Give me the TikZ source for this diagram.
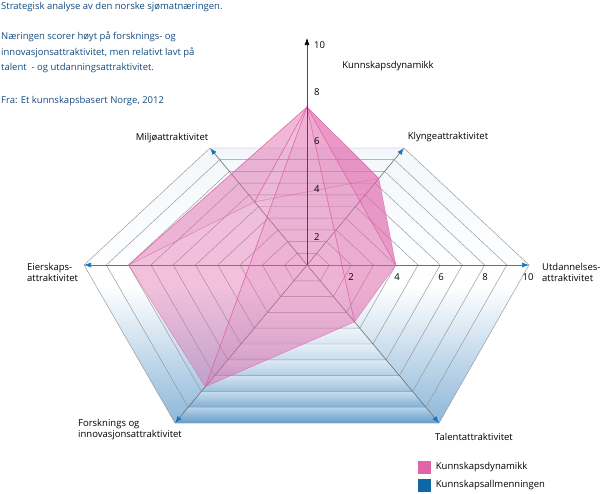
\documentclass[tikz,border=0pt]{standalone}
\usepackage{fontspec}
\setmainfont{Open Sans}
\usepackage{xcolor}
\usepackage{tikz}
\usetikzlibrary{calc}
\usetikzlibrary{arrows.meta}
\usetikzlibrary{positioning}

\definecolor{titleblue}{HTML}{154A7E}
\definecolor{gridgray}{HTML}{959595}
\definecolor{spokegray}{HTML}{6E6E6E}
\definecolor{tipblue}{HTML}{1B75BB}
\definecolor{dynpink}{HTML}{DF65A9}
\definecolor{allmblue}{HTML}{0F67A6}
\definecolor{floorblue}{HTML}{2F7CBA}

\begin{document}
\begin{tikzpicture}[x=1pt, y=-1pt, font=\fontsize{9.5}{11}\selectfont,
  ring/.style={draw=gridgray, line width=0.45pt},
  spoke/.style={draw=spokegray, line width=0.6pt, -{Latex[length=7pt,width=5pt,color=tipblue]}},
  face/.style={fill=dynpink, fill opacity=#1, draw=dynpink, draw opacity=0.7, line width=0.5pt},
  axislabel/.style={inner sep=0pt, align=left},
  tick/.style={inner sep=0pt},
  key/.style={minimum size=13pt, inner sep=0pt}]
  \useasboundingbox (0,0) rectangle (600,493);

  % floor of the chart
  \coordinate (O) at (307,265);
  \coordinate (utd) at (529,265);
  \coordinate (klynge) at (404,148);
  \coordinate (miljo) at (210,148);
  \coordinate (eier) at (84,265);
  \coordinate (forsk) at (175,423);
  \coordinate (talent) at (439,423);
  \coordinate (top) at (307,38);

  \shade[top color=floorblue!6, bottom color=floorblue!55, middle color=white]
    (utd) -- (klynge) -- (miljo) -- (eier) -- (forsk) -- (talent) -- cycle;
  \foreach \r [evaluate=\r as \lo using {(\r-1)/10}, evaluate=\r as \hi using {\r/10},
      evaluate=\r as \ct using {0.33*\r*\r}, evaluate=\r as \cb using {0.75*\r*\r}] in {1,...,10}
    \shade[top color=floorblue!\ct, bottom color=floorblue!\cb]
      ($(O)!\lo!(forsk)$) -- ($(O)!\lo!(talent)$) -- ($(O)!\hi!(talent)$) -- ($(O)!\hi!(forsk)$) -- cycle;

  \foreach \r in {10,...,1}
    \draw[ring] ($(O)!\r/10!(utd)$) -- ($(O)!\r/10!(klynge)$) -- ($(O)!\r/10!(miljo)$)
      -- ($(O)!\r/10!(eier)$) -- ($(O)!\r/10!(forsk)$) -- ($(O)!\r/10!(talent)$) -- cycle;
  \foreach \s in {utd,klynge,miljo,eier,forsk,talent}
    \draw[spoke] (O) -- (\s);

  % Kunnskapsdynamikk
  \coordinate (apex) at (307,107);
  \coordinate (pu) at ($(O)!0.40!(utd)$);
  \coordinate (pk) at ($(O)!0.74!(klynge)$);
  \coordinate (pm) at ($(O)!0.54!(miljo)$);
  \coordinate (pe) at ($(O)!0.80!(eier)$);
  \coordinate (pf) at ($(O)!0.77!(forsk)$);
  \coordinate (pt) at ($(O)!0.36!(talent)$);
  \fill[dynpink, fill opacity=0.14] (pu) -- (pk) -- (pm) -- (pe) -- (pf) -- (pt) -- cycle;
  \path[face=0.18] (apex) -- (pk) -- (pm) -- cycle;
  \path[face=0.24] (apex) -- (pm) -- (pe) -- cycle;
  \path[face=0.3] (apex) -- (pe) -- (pf) -- cycle;
  \path[face=0.4] (apex) -- (pf) -- (pt) -- cycle;
  \path[face=0.45] (apex) -- (pt) -- (pu) -- cycle;
  \path[face=0.6] (apex) -- (pu) -- (pk) -- cycle;

  \draw[black!70, line width=0.6pt, -{Latex[length=7pt,width=5pt,color=black]}] (O) -- (top);
  \foreach \v/\y in {2/237,4/189,6/141,8/92,10/45}
    \node[tick, anchor=west] at (314,\y) {\v};
  \foreach \v/\x in {2/351,4/397,6/441,8/485,10/528}
    \node[tick] at (\x,277) {\v};

  % axis names
  \node[axislabel] (ldyn) at (388,66) {Kunnskapsdynamikk};
  \node[axislabel] (lklynge) at (448,137) {Klyngeattraktivitet};
  \node[axislabel] (lmiljo) at (172,138) {Miljøattraktivitet};
  \node[axislabel, anchor=west] (leier) at (27,272) {Eierskaps-\\attraktivitet};
  \node[axislabel, anchor=west] (lutd) at (542,272) {Utdannelses-\\attraktivitet};
  \node[axislabel] (ltalent) at (474,437) {Talentattraktivitet};
  \node[axislabel, anchor=west] (lforsk) at (78,430) {Forsknings og\\innovasjonsattraktivitet};

  % title
  \node[axislabel, anchor=west, text=titleblue] (title) at (1,7) {Strategisk analyse av den norske sjømatnæringen.};
  \node[axislabel, anchor=north west, text=titleblue, font=\fontsize{9.5}{15.5}\selectfont] (summary) at (1,32)
    {Næringen scorer høyt på forsknings- og\\innovasjonsattraktivitet, men relativt lavt på\\talent\ \ - og utdanningsattraktivitet.};
  \node[axislabel, anchor=west, text=titleblue] (source) at (1,101) {Fra: Et kunnskapsbasert Norge, 2012};

  % legend
  \node[key, fill=dynpink] (keydyn) at (424,467) {};
  \node[axislabel, right=5pt of keydyn] {Kunnskapsdynamikk};
  \node[key, fill=allmblue] (keyallm) at (424,485.5) {};
  \node[axislabel, right=5pt of keyallm] {Kunnskapsallmenningen};
\end{tikzpicture}
\end{document}
